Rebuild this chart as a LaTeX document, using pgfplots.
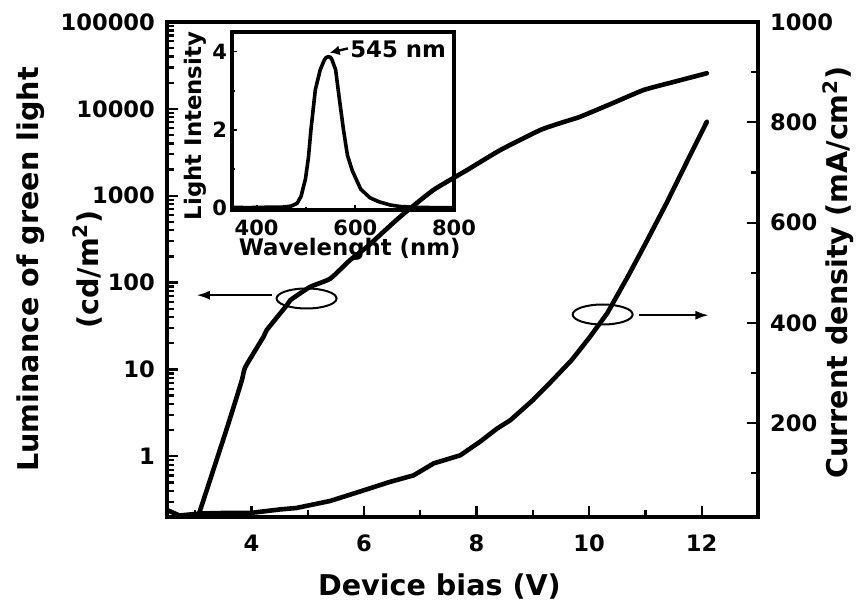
\documentclass[border=0pt]{standalone}
\usepackage{fontspec}
\setmainfont{DejaVu Sans}
\usepackage{pgfplots}
\usepackage{pgfplotstable}
\pgfplotsset{compat=1.18}
\usetikzlibrary{arrows.meta}

% luminance (cd/m^2) against bias (V)
\pgfplotstableread{
x L
3.05 0.2
3.57 2.16
3.83 7.5
3.89 10.6
4.21 23.5
4.27 28.3
4.63 55
4.69 62.7
5.04 89
5.40 111
5.75 181
6.05 257
6.64 571
7.23 1160
7.83 1973
8.42 3350
9.13 5700
9.50 6900
9.84 8110
10.40 11500
10.97 16500
11.50 20400
12.09 25700
}\lumtable

% current density (mA/cm^2) against bias (V)
\pgfplotstableread{
x J
2.50 27
2.72 16
3.10 20
3.50 21
3.98 21
4.50 28
4.80 31
5.40 45
5.99 66
6.46 83
6.88 96
7.24 120
7.71 136
8.06 163
8.36 189
8.60 206
9.00 246
9.30 280
9.69 326
10.00 370
10.32 419
10.70 495
11.00 558
11.38 640
11.74 722
12.09 801
}\curtable

% electroluminescence spectrum
\pgfplotstableread{
w I
350 0.02
380 0.01
420 0.02
450 0.02
470 0.05
482 0.12
490 0.30
499 0.75
505 1.30
510 2.00
519 3.03
529 3.54
537 3.78
541 3.85
546 3.87
550 3.85
553 3.78
560 3.54
567 2.85
576 2.00
584 1.35
594 0.95
611 0.48
630 0.26
648 0.16
670 0.08
690 0.04
720 0.02
760 0.01
800 0.01
}\spectable

\begin{document}
\begin{tikzpicture}
\pgfplotsset{
  every axis/.append style={
    scale only axis,
    tick align=inside,
    /pgf/number format/assume math mode=true,
    /pgf/number format/1000 sep={},
    every tick/.style={black, line width=1.1pt},
  },
}
% left axis: luminance, logarithmic
\begin{axis}[
  width=295.5pt, height=247.5pt,
  xmin=2.5, xmax=13,
  ymode=log, ymin=0.2, ymax=100000,
  axis line style={line width=1.9pt},
  xtick={4,6,8,10,12}, minor xtick={3,5,7,9,11},
  ytick={1,10,100,1000,10000,100000},
  yticklabels={1,10,100,1000,10000,100000},
  minor ytick={0.2,0.3,0.4,0.5,0.6,0.7,0.8,0.9,
               2,3,4,5,6,7,8,9,20,30,40,50,60,70,80,90,
               200,300,400,500,600,700,800,900,
               2000,3000,4000,5000,6000,7000,8000,9000,
               20000,30000,40000,50000,60000,70000,80000,90000},
  xtick pos=bottom, ytick pos=left,
  major tick length=5.5pt, minor tick length=3.5pt,
  tick label style={font=\fontsize{11.3}{13}\selectfont\bfseries},
  xticklabel style={yshift=-5.5pt},
  yticklabel style={xshift=-2.5pt},
  xlabel={Device bias (V)},
  xlabel style={at={(axis description cs:0.461,0)}, anchor=base, yshift=-39pt,
    font=\fontsize{14.3}{17}\selectfont\bfseries},
  ylabel={Luminance of green light\\[13pt](cd/m\textsuperscript{2})},
  ylabel style={at={(axis description cs:-0.1827,0.5)}, anchor=center, align=center,
    font=\fontsize{14.3}{17}\selectfont\bfseries},
]
\addplot[black, line width=2.3pt, line join=round, line cap=round, smooth, tension=0.3] table[x=x, y=L] {\lumtable};
\draw[line width=1pt] (axis cs:4.98,65.6) ellipse [x radius=15pt, y radius=5pt];
\draw[line width=0.9pt, -{Latex[length=6.5pt, width=4.5pt]}] (axis cs:4.37,71.6) -- (axis cs:3.03,71.6);
\draw[line width=1pt] (axis cs:10.24,42.9) ellipse [x radius=15pt, y radius=5pt];
\draw[line width=0.9pt, -{Latex[length=6.5pt, width=4.5pt]}] (axis cs:10.88,42.1) -- (axis cs:12.12,42.1);
\end{axis}

% right axis: current density, linear
\begin{axis}[
  width=295.5pt, height=247.5pt,
  xmin=2.5, xmax=13,
  ymin=13, ymax=1000,
  hide x axis,
  axis line style={line width=1.9pt},
  ytick={200,400,600,800,1000}, minor ytick={100,300,500,700,900},
  ytick pos=right, yticklabel pos=right,
  major tick length=5.5pt, minor tick length=3.5pt,
  tick label style={font=\fontsize{11.3}{13}\selectfont\bfseries},
  yticklabel style={xshift=2.5pt},
  ylabel={Current density (mA/cm\textsuperscript{2})},
  ylabel style={at={(axis description cs:1.152,0.494)}, anchor=base, rotate=0,
    font=\fontsize{14.3}{17}\selectfont\bfseries},
]
\addplot[black, line width=2.3pt, line join=round, line cap=round] table[x=x, y=J] {\curtable};
\end{axis}

% inset: emission spectrum
\begin{axis}[
  at={(32.5pt,153.5pt)}, anchor=south west,
  width=111pt, height=89pt,
  xmin=350, xmax=800, ymin=-0.05, ymax=4.5,
  axis line style={line width=1.6pt},
  xtick={400,600,800}, minor xtick={500,700},
  ytick={0,2,4}, minor ytick={1,3},
  xtick pos=bottom, ytick pos=left,
  major tick length=2.5pt, minor tick length=1.5pt,
  every tick/.style={black, line width=0.9pt},
  tick label style={font=\fontsize{10.5}{12}\selectfont\bfseries},
  xticklabel style={yshift=-1.5pt},
  yticklabel style={xshift=1pt},
  xlabel={Wavelenght (nm)},
  xlabel style={at={(axis description cs:0.53,-0.253)}, anchor=base,
    font=\fontsize{11.4}{13}\selectfont\bfseries},
  ylabel={Light Intensity},
  ylabel style={at={(axis description cs:-0.137,0.472)}, anchor=base,
    font=\fontsize{11.4}{13}\selectfont\bfseries},
]
\addplot[black, line width=1.8pt, line join=round] table[x=w, y=I] {\spectable};
\draw[line width=1.2pt, -{Latex[length=5pt, width=5pt]}] (axis cs:585,4.08) -- (axis cs:548,3.97);
\node[anchor=west, inner sep=0pt, font=\fontsize{11.4}{13}\selectfont\bfseries] at (axis cs:589,4.05) {545 nm};
\end{axis}

\pgfresetboundingbox
\path (-83.5pt,-44pt) rectangle (347pt,258.5pt);
\end{tikzpicture}
\end{document}
